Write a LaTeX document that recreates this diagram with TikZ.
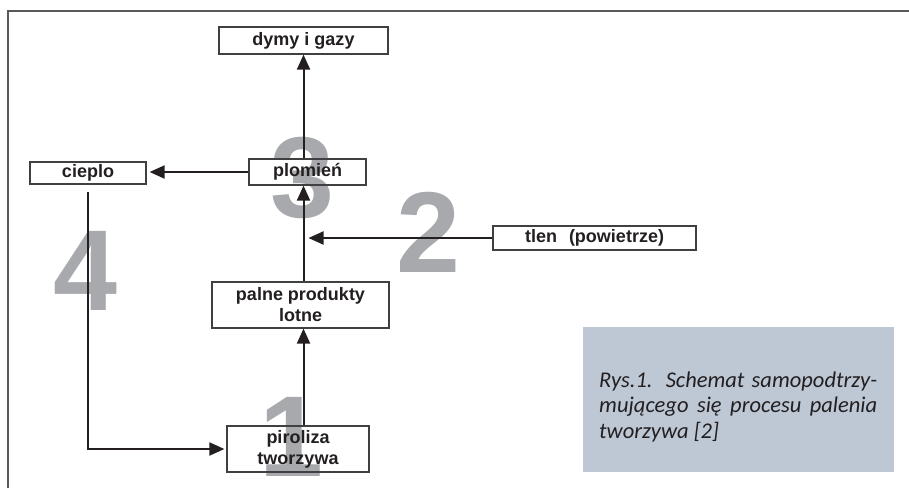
\documentclass[tikz,border=0pt]{standalone}
\usepackage{fontspec}
\setmainfont{Liberation Sans}
\newfontfamily\captfont{Carlito}
\usetikzlibrary{arrows.meta}
\definecolor{numgray}{RGB}{167,169,172}
\definecolor{capblue}{RGB}{190,200,213}
\definecolor{inkdark}{RGB}{35,31,32}

\begin{document}
\begin{tikzpicture}[x=1pt,y=-1pt,
    box/.style={draw=black!75, line width=1.2pt, inner sep=0pt, align=center,
      font=\bfseries\fontsize{18}{21}\selectfont, text=inkdark},
    digit/.style={text=numgray, inner sep=0pt,
      font=\bfseries\fontsize{115}{115}\selectfont},
    flow/.style={line width=2pt, draw=inkdark},
    >={Triangle[length=15pt,width=13pt]}]
  \useasboundingbox (0,0) rectangle (909,488);
  \draw[black!65, line width=1.5pt] (8,488) -- (8,11) -- (909,11);
  % grey step numbers
  \node[digit] (N1) at (291,437) {1};
  \node[digit] (N2) at (428,232) {2};
  \node[digit] (N3) at (302,178) {3};
  \node[digit] (N4) at (85,271) {4};
  % boxes
  \node[box, minimum width=169pt, minimum height=27pt] (A) at (303.5,40.5) {dymy i gazy};
  \node[box, minimum width=117pt, minimum height=26pt] (B) at (307.5,172) {plomień};
  \node[box, minimum width=116pt, minimum height=22pt] (C) at (88,173) {cieplo};
  \node[box, minimum width=203pt, minimum height=24pt] (D) at (594.5,238) {tlen\hspace{12pt}(powietrze)};
  \node[box, minimum width=177pt, minimum height=46pt] (E) at (300.5,305) {palne produkty\\lotne};
  \node[box, minimum width=142pt, minimum height=46pt] (F) at (298,449) {piroliza\\tworzywa};
  % arrows
  \draw[flow,->] (B.north -| A.south) -- (A.south);
  \draw[flow,->,shorten >=3pt] (B.west) -- (B.west -| C.east);
  \draw[flow,->] (E.north -| A.south) -- (B.south -| A.south);
  \draw[flow,->,shorten >=5pt] (D.west) -- (D.west -| A.south);
  \draw[flow,->] (F.north -| A.south) -- (E.south -| A.south);
  \draw[flow,->,shorten >=2pt] ([yshift=-7pt]C.south) |- (F.west);
  % caption
  \node[fill=capblue, minimum width=311pt, minimum height=145pt,
    inner sep=0pt] (G) at (738.5,399.5) {};
  \node[anchor=base west, inner sep=0pt, align=left, text=inkdark,
    font=\captfont\itshape\fontsize{22.5}{25.5}\selectfont] (H)
    at (599,438)
    {\makebox[278pt][s]{Rys.1. Schemat samopodtrzy-}\\
     \makebox[278pt][s]{mującego się procesu palenia}\\
     tworzywa [2]};
\end{tikzpicture}
\end{document}
